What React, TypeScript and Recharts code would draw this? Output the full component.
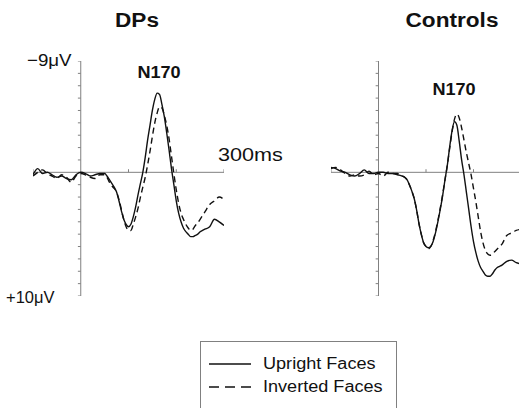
import React from "react";
import { Line, LineChart, ReferenceLine, XAxis, YAxis } from "recharts";

// time in ms, amplitude in µV (negative up, as in the figure)
const TIMES = [
  -100, -90, -80, -70, -60, -50, -40, -30, -20, -10, 0, 10, 20, 30, 40,
  50, 55, 60, 65, 70, 75, 80, 85, 90, 95, 100, 105, 110, 115, 120, 125, 130, 135, 140, 145,
  150, 155, 160, 165, 170, 175, 180, 185, 190, 195, 200, 205, 210, 215, 220, 225, 230, 235,
  240, 245, 250, 255, 260, 270, 280, 290, 300,
];

const DP_UPRIGHT = [
  0.2, -0.3, 0.1, 0.0, 0.2, 0.4, 0.3, 0.5, 0.6, 0.2, 0.0, 0.1, 0.3, 0.2, 0.1,
  0.1, 0.3, 0.6, 0.9, 1.2, 1.6, 2.3, 3.1, 3.8, 4.2, 4.4, 4.2, 3.6, 2.8, 1.8, 0.9, 0.0, -1.2, -2.6, -3.8,
  -5.0, -5.9, -6.4, -6.3, -5.5, -4.5, -3.2, -1.8, -0.3, 1.0, 2.3, 3.3, 4.0, 4.5, 4.8, 5.0, 5.2, 5.2,
  5.1, 5.0, 4.8, 4.7, 4.6, 4.4, 3.8, 4.0, 4.3,
];

const DP_INVERTED = [
  0.3, 0.0, -0.2, 0.1, 0.3, 0.5, 0.2, 0.4, 0.8, 0.3, 0.1, 0.2, 0.4, 0.5, 0.2,
  0.2, 0.4, 0.8, 1.1, 1.3, 1.6, 2.2, 3.0, 3.8, 4.4, 4.7, 4.7, 4.2, 3.6, 2.9, 2.0, 1.2, 0.4, -0.6, -1.7,
  -2.9, -4.0, -4.8, -5.3, -5.2, -4.6, -3.8, -2.7, -1.3, 0.1, 1.4, 2.5, 3.3, 3.8, 4.2, 4.5, 4.7, 4.6,
  4.3, 4.1, 3.8, 3.5, 3.2, 2.6, 2.3, 2.0, 2.2,
];

const CT_UPRIGHT = [
  -0.4, -0.3, -0.1, 0.0, 0.2, 0.3, 0.1, -0.2, 0.1, 0.1, 0.0, 0.0, 0.1, 0.1, 0.2,
  0.3, 0.4, 0.6, 1.0, 1.5, 2.1, 3.0, 4.1, 5.0, 5.7, 6.0, 6.1, 6.0, 5.6, 4.9, 4.0, 3.0, 1.9, 0.6, -0.6,
  -2.1, -3.4, -4.1, -3.8, -2.5, -1.0, 0.2, 1.6, 3.0, 4.4, 5.6, 6.5, 7.2, 7.7, 8.0, 8.3, 8.4, 8.4,
  8.2, 7.9, 7.7, 7.6, 7.5, 7.2, 7.1, 7.3, 7.4,
];

const CT_INVERTED = [
  -0.3, -0.4, -0.2, 0.1, 0.3, 0.2, 0.3, 0.2, -0.1, 0.2, 0.1, 0.3, 0.0, 0.1, 0.1,
  0.3, 0.4, 0.6, 1.0, 1.5, 2.1, 3.0, 4.1, 5.0, 5.7, 6.0, 6.2, 6.0, 5.5, 4.8, 3.9, 2.9, 1.8, 0.6, -0.6,
  -2.0, -3.3, -4.3, -4.7, -4.4, -3.6, -2.6, -1.6, -0.7, 0.2, 1.3, 2.4, 3.6, 4.8, 5.7, 6.3, 6.6, 6.7,
  6.6, 6.4, 6.2, 6.0, 5.8, 5.1, 4.9, 4.7, 4.6,
];

const Y_TICKS = [-9, -8, -7, -6, -5, -4, -3, -2, -1, 0, 1, 2, 3, 4, 5, 6, 7, 8, 9, 10];
const X_TICKS = [-100, 100, 200, 300];

const FONT = '"Liberation Sans", Arial, Helvetica, sans-serif';
const AXIS_COLOR = "#808080";
const INK = "#111";

function Panel({ upright, inverted, left, width }: { upright: number[]; inverted: number[]; left: number; width: number }) {
  const rows = TIMES.map((t, i) => ({ t, up: upright[i], inv: inverted[i] }));
  return (
    <div style={{ position: "absolute", left, top: 61 }}>
      <LineChart width={width} height={235} data={rows} margin={{ top: 0, right: 0, bottom: 0, left: 0 }}>
        <XAxis dataKey="t" type="number" domain={[-100, 300]} hide />
        <YAxis type="number" domain={[-9, 10]} reversed hide />
        <ReferenceLine y={0} stroke={AXIS_COLOR} strokeWidth={1} />
        <ReferenceLine x={0} stroke={AXIS_COLOR} strokeWidth={1} />
        {Y_TICKS.map((v) => (
          <ReferenceLine key={"y" + v} segment={[{ x: 0, y: v }, { x: -6, y: v }]} stroke={AXIS_COLOR} />
        ))}
        {X_TICKS.map((t) => (
          <ReferenceLine key={"x" + t} segment={[{ x: t, y: 0 }, { x: t, y: -0.25 }]} stroke={AXIS_COLOR} />
        ))}
        <Line type="monotone" dataKey="inv" stroke={INK} strokeWidth={1.4} strokeDasharray="6 4" dot={false} isAnimationActive={false} />
        <Line type="monotone" dataKey="up" stroke={INK} strokeWidth={1.4} dot={false} isAnimationActive={false} />
      </LineChart>
    </div>
  );
}

// the source figure is slightly stretched horizontally, hence the scaleX
function Txt({ x, y, size, bold, center, sx = 1.13, children }: any) {
  return (
    <div
      style={{
        position: "absolute",
        left: x,
        top: y,
        transform: (center ? "translateX(-50%) " : "") + `scaleX(${sx})`,
        transformOrigin: center ? "50% 0" : "0 0",
        fontFamily: FONT,
        fontSize: size,
        fontWeight: bold ? 700 : 400,
        lineHeight: 1,
        whiteSpace: "nowrap",
        color: INK,
      }}
    >
      {children}
    </div>
  );
}

export default function App() {
  return (
    <div style={{ position: "absolute", left: 0, top: 0, width: 519, height: 408, overflow: "hidden", background: "#fff" }}>
      <Panel upright={DP_UPRIGHT} inverted={DP_INVERTED} left={33} width={191} />
      <Panel upright={CT_UPRIGHT} inverted={CT_INVERTED} left={331} width={190} />

      <Txt x={137} y={10} size={20} bold center>DPs</Txt>
      <Txt x={452} y={10} size={20} bold center>Controls</Txt>
      <Txt x={27} y={52} size={17} sx={1.1}>−9μV</Txt>
      <Txt x={6} y={289} size={17} sx={0.97}>+10μV</Txt>
      <Txt x={218} y={146} size={18} sx={1.2}>300ms</Txt>
      <Txt x={159} y={65} size={16} bold center>N170</Txt>
      <Txt x={454} y={82} size={16} bold center>N170</Txt>

      <div style={{ position: "absolute", left: 200, top: 341, width: 197, height: 80, border: "1px solid #808080", boxSizing: "border-box" }}>
        <svg width={50} height={60} style={{ position: "absolute", left: 6, top: 8 }}>
          <line x1={2} x2={44} y1={14} y2={14} stroke={INK} strokeWidth={1.4} />
          <line x1={2} x2={44} y1={37} y2={37} stroke={INK} strokeWidth={1.4} strokeDasharray="10 6" />
        </svg>
        <Txt x={62} y={14} size={16}>Upright Faces</Txt>
        <Txt x={62} y={37} size={16}>Inverted Faces</Txt>
      </div>
    </div>
  );
}
